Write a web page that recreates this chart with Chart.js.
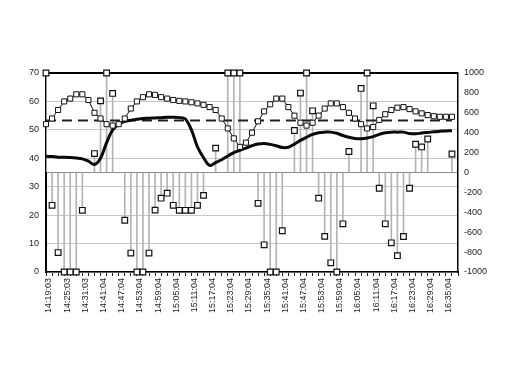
<!DOCTYPE html>
<html>
<head>
<meta charset="utf-8">
<script src="https://cdn.jsdelivr.net/npm/chart.js@4.4.0/dist/chart.umd.min.js"></script>
<style>
html,body{margin:0;padding:0;background:#fff;}
#wrap{width:512px;height:384px;position:relative;}
</style>
</head>
<body>
<div id="wrap"><canvas id="c" width="512" height="384"></canvas></div>
<script>
// Tick labels shown on the time axis (every third sample)
const timeLabels = ['14:19:03','14:25:03','14:31:03','14:41:04','14:47:04','14:53:04','14:59:04','15:05:04','15:11:04','15:17:04','15:23:04','15:29:04','15:35:04','15:41:04','15:47:04','15:53:04','15:59:04','16:05:04','16:11:04','16:17:04','16:23:04','16:29:04','16:35:04'];

// Square-marker series (left axis)
const squareSeries = [52,54,57,60,61,62.5,62.5,60.5,56,54,
  52,51.5,52,54,57.5,60,61.5,62.5,62.3,61.5,
  61,60.5,60.2,60,59.7,59.3,58.8,58,57,54,
  50.5,47,44,45.5,49,53,56.5,59,61,61,
  58,55,52.5,51.5,52.5,55,57.5,59.3,59.3,58,
  56,54,52,50.5,51,53.5,55.5,57,57.8,58,
  57.3,56.5,55.8,55.2,54.8,54.6,54.6,54.6,null];

// Thick line series (left axis)
const thickSeries = [40.7,40.6,40.4,40.4,40.3,40.1,39.8,39,37.8,40,
  45.5,50,52,53,53.4,53.7,54,54.1,54.2,54.3,
  54.4,54.4,54.3,53.8,50,44,40.2,37.5,38.5,39.5,
  40.8,42,42.8,43.6,44.4,45,45.2,44.9,44.4,43.8,
  43.9,45,46.3,47.4,48.4,49,49.2,49.2,48.8,48,
  47.4,47,46.9,47.1,47.6,48.4,49,49.2,49.2,49.2,
  48.7,48.6,48.9,49.1,49.3,49.5,49.6,49.7,null];

// Scatter series with drop lines (right axis)
const dropSeries = [1000,-330,-805,-1000,-1000,-1000,-380,null,190,720,
  1000,795,null,-480,-810,-1000,-1000,-810,-378,-258,
  -208,-330,-380,-380,-380,-330,-230,null,245,null,
  1000,1000,1000,null,null,-310,-727,-1000,-1000,-585,
  null,422,798,1000,620,-258,-642,-908,-1000,-516,
  211,null,845,1000,670,-158,-516,-707,-836,-643,
  -158,284,257,337,null,null,null,186,null];

// Dashed reference level (left axis)
const refLevel = 53.3;

const categories = dropSeries.map((_, i) => (i % 3 === 0 && timeLabels[i / 3]) ? timeLabels[i / 3] : '');
const refSeries = categories.map((_, i) => i < 68 ? refLevel : null);

const FONT = "'Liberation Sans', Arial, sans-serif";

new Chart(document.getElementById('c'), {
  type: 'line',
  data: {
    labels: categories,
    datasets: [
      {
        label: 'points', data: dropSeries, yAxisID: 'y2', order: 1,
        showLine: false, pointStyle: 'rect', pointRadius: 4,
        pointBackgroundColor: '#fff', pointBorderColor: '#111', pointBorderWidth: 1.2,
        clip: false
      },
      {
        label: 'squares', data: squareSeries, yAxisID: 'y', order: 2,
        borderColor: '#111', borderWidth: 1, tension: 0,
        pointStyle: 'rect', pointRadius: 3.6,
        pointBackgroundColor: '#fff', pointBorderColor: '#111', pointBorderWidth: 1,
        clip: false
      },
      {
        label: 'thick', data: thickSeries, yAxisID: 'y', order: 3,
        borderColor: '#0a0a0a', borderWidth: 3, tension: 0.35, pointRadius: 0
      },
      {
        label: 'ref', data: refSeries, yAxisID: 'y', order: 4,
        borderColor: '#222', borderWidth: 2, borderDash: [10, 6], pointRadius: 0
      },
      {
        type: 'bar', label: 'drops', data: dropSeries, yAxisID: 'y2', order: 5,
        backgroundColor: '#b4b4b4', barThickness: 1, borderWidth: 0
      }
    ]
  },
  options: {
    responsive: false,
    animation: false,
    devicePixelRatio: 1,
    layout: { padding: { top: 73, left: 0, right: 0, bottom: 0 } },
    plugins: { legend: { display: false }, tooltip: { enabled: false } },
    scales: {
      x: {
        type: 'category', offset: false,
        grid: { display: true, drawOnChartArea: false, drawTicks: true, tickLength: 4, color: '#222', offset: false },
        border: { display: true, color: '#000', width: 1.5 },
        ticks: { autoSkip: false, minRotation: 90, maxRotation: 90, padding: 2, labelOffset: 3,
                 color: '#222', font: { family: FONT, size: 9 } },
        afterFit(s) { s.height = 112; }
      },
      y: {
        position: 'left', min: 0, max: 70,
        ticks: { stepSize: 10, padding: 7, color: '#222', font: { family: FONT, size: 9 },
                 callback: v => String(v) },
        grid: {
          color: ctx => ctx.tick && ctx.tick.value === 70 ? '#000' : '#c6c6c6',
          lineWidth: ctx => ctx.tick && ctx.tick.value === 70 ? 2 : 1,
          drawTicks: false
        },
        border: { display: true, color: '#000', width: 2 },
        afterFit(s) { s.width = 46; }
      },
      y2: {
        position: 'right', min: -1000, max: 1000,
        ticks: { stepSize: 200, padding: 6, color: '#222', font: { family: FONT, size: 9 },
                 callback: v => String(v) },
        grid: {
          color: ctx => ctx.tick && ctx.tick.value === 0 ? '#8a8a8a' : 'rgba(0,0,0,0)',
          drawTicks: false
        },
        border: { display: true, color: '#000', width: 1.5 },
        afterFit(s) { s.width = 54; }
      }
    }
  }
});
</script>
</body>
</html>
